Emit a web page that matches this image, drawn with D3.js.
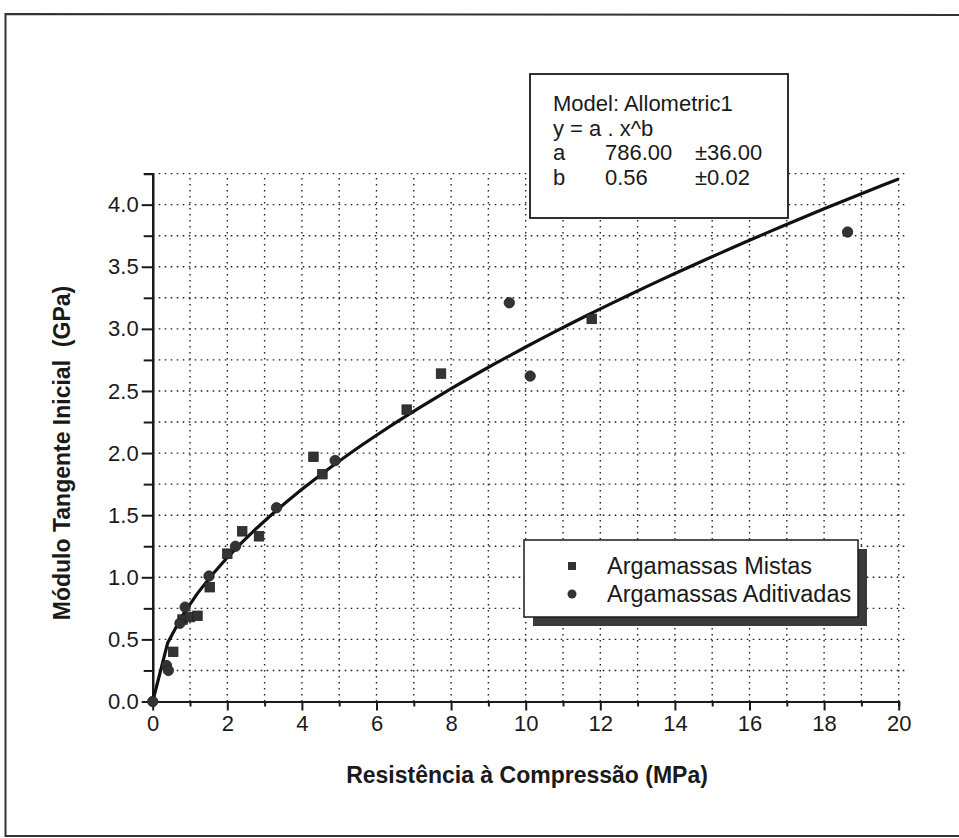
<!DOCTYPE html>
<html>
<head>
<meta charset="utf-8">
<script src="https://cdn.jsdelivr.net/npm/d3@7/dist/d3.min.js"></script>
<style>
  html, body { margin: 0; padding: 0; background: #fff; }
  svg { display: block; font-family: Arial, "Liberation Sans", Helvetica, sans-serif; }
</style>
</head>
<body>
<svg id="chart" width="959" height="838"></svg>
<script>
// ---- data ----
const mistasX = [0.55, 0.80, 1.00, 1.20, 1.53, 2.00, 2.40, 2.85, 4.31, 4.55, 6.81, 7.73, 11.77];
const mistasY = [0.40, 0.66, 0.68, 0.69, 0.92, 1.19, 1.37, 1.33, 1.97, 1.83, 2.35, 2.64, 3.08];

const aditX = [0.00, 0.37, 0.42, 0.73, 0.87, 1.51, 2.22, 3.32, 4.89, 9.56, 10.12, 18.63];
const aditY = [0.00, 0.29, 0.25, 0.63, 0.76, 1.01, 1.25, 1.56, 1.94, 3.21, 2.62, 3.78];

// fitted model shown in the chart: y = a . x^b  (a in MPa, result shown in GPa)
const modelA = 786.00, modelAErr = 36.00;
const modelB = 0.56, modelBErr = 0.02;

const xMajorTicks = [0, 2, 4, 6, 8, 10, 12, 14, 16, 18, 20];
const xMinorTicks = [1, 3, 5, 7, 9, 11, 13, 15, 17, 19];
const yMajorTicks = [0.0, 0.5, 1.0, 1.5, 2.0, 2.5, 3.0, 3.5, 4.0];
const yMinorTicks = [0.25, 0.75, 1.25, 1.75, 2.25, 2.75, 3.25, 3.75];
const xGrid = [1,2,3,4,5,6,7,8,9,10,11,12,13,14,15,16,17,18,19,20];
const yGrid = [0.25,0.5,0.75,1,1.25,1.5,1.75,2,2.25,2.5,2.75,3,3.25,3.5,3.75,4,4.25];

const legendLabels = ["Argamassas Mistas", "Argamassas Aditivadas"];
const modelLines = [
  ["Model: Allometric1", "", ""],
  ["y = a . x^b", "", ""],
  ["a", modelA.toFixed(2), "\u00B1" + modelAErr.toFixed(2)],
  ["b", modelB.toFixed(2), "\u00B1" + modelBErr.toFixed(2)]
];

// ---- drawing ----
const svg = d3.select("#chart");
const ink = "#1a1a1a";

// outer frame
svg.append("path")
  .attr("d", "M 970 15 L 5.5 14 L 5.5 836 L 970 836")
  .attr("fill", "none").attr("stroke", "#333").attr("stroke-width", 2);

const x = d3.scaleLinear().domain([0, 20]).range([152.7, 898.7]);
const y = d3.scaleLinear().domain([0, 4.25]).range([701.5, 173.6]);

// grid
const grid = svg.append("g").attr("stroke", "#222").attr("stroke-width", 1.4)
  .attr("stroke-dasharray", "1.6,4.4");
grid.selectAll("line.v").data(xGrid).join("line")
  .attr("x1", d => x(d)).attr("x2", d => x(d))
  .attr("y1", y(0)).attr("y2", y(4.25));
grid.selectAll("line.h").data(yGrid).join("line")
  .attr("class", "h")
  .attr("x1", x(0)).attr("x2", x(20.2))
  .attr("y1", d => y(d)).attr("y2", d => y(d));

// axes
function styleAxis(g) {
  g.select(".domain").attr("stroke", ink).attr("stroke-width", 2.2);
  g.selectAll(".tick line").attr("stroke", ink).attr("stroke-width", 2);
  g.selectAll(".tick text").attr("fill", ink).style("font-size", "22px")
    .style("font-family", "Arial, 'Liberation Sans', sans-serif");
}
svg.append("g").attr("transform", `translate(0,${y(0)})`)
  .call(d3.axisBottom(x).tickValues(xMinorTicks).tickSize(5).tickFormat(""))
  .call(styleAxis);
svg.append("g").attr("transform", `translate(0,${y(0)})`)
  .call(d3.axisBottom(x).tickValues(xMajorTicks).tickSize(9).tickSizeOuter(0).tickPadding(5).tickFormat(d3.format("d")))
  .call(styleAxis);

svg.append("g").attr("transform", `translate(${x(0)},0)`)
  .call(d3.axisLeft(y).tickValues(yMinorTicks).tickSize(9).tickFormat(""))
  .call(styleAxis);
svg.append("g").attr("transform", `translate(${x(0)},0)`)
  .call(d3.axisLeft(y).tickValues(yMajorTicks).tickSize(11).tickSizeOuter(0).tickPadding(3).tickFormat(d3.format(".1f")))
  .call(styleAxis);

// axis titles
svg.append("text")
  .attr("x", 527).attr("y", 783)
  .attr("text-anchor", "middle")
  .style("font-size", "23px").style("font-weight", "bold").attr("fill", ink)
  .text("Resist\u00EAncia \u00E0 Compress\u00E3o (MPa)");
svg.append("text")
  .attr("transform", "translate(70,453) rotate(-90)")
  .attr("text-anchor", "middle")
  .style("font-size", "23px").style("font-weight", "bold").attr("fill", ink)
  .style("white-space", "pre")
  .text("M\u00F3dulo Tangente Inicial  (GPa)");

// fitted curve
const curveX = d3.range(0, 20.0001, 0.4);
const curvePts = curveX.map(v => [v, modelA * Math.pow(v, modelB) / 1000]);
svg.append("path")
  .datum(curvePts)
  .attr("fill", "none").attr("stroke", "#111").attr("stroke-width", 3.2)
  .attr("stroke-linejoin", "round")
  .attr("d", d3.line().x(d => x(d[0])).y(d => y(d[1])));

// data markers
const markFill = "#333";
const sq = 9.5;
svg.append("g").selectAll("rect").data(d3.zip(mistasX, mistasY)).join("rect")
  .attr("x", d => x(d[0]) - sq / 2).attr("y", d => y(d[1]) - sq / 2)
  .attr("width", sq).attr("height", sq)
  .attr("fill", markFill).attr("stroke", "#222").attr("stroke-width", 0.8);
svg.append("g").selectAll("circle").data(d3.zip(aditX, aditY)).join("circle")
  .attr("cx", d => x(d[0])).attr("cy", d => y(d[1])).attr("r", 5.2)
  .attr("fill", markFill).attr("stroke", "#222").attr("stroke-width", 0.8);

// model box
const mb = svg.append("g");
mb.append("rect").attr("x", 530).attr("y", 74).attr("width", 258).attr("height", 144)
  .attr("fill", "#fff").attr("stroke", ink).attr("stroke-width", 1.8);
const colX = [553, 605, 695];
modelLines.forEach((row, i) => {
  row.forEach((t, j) => {
    if (!t) return;
    mb.append("text").attr("x", colX[j]).attr("y", 111 + i * 24.5)
      .style("font-size", "22px").attr("fill", ink).text(t);
  });
});

// legend with shadow
const lg = svg.append("g");
lg.append("rect").attr("x", 533).attr("y", 549).attr("width", 334).attr("height", 77)
  .attr("fill", "#3a3a3a");
lg.append("rect").attr("x", 524).attr("y", 540).attr("width", 334).attr("height", 77)
  .attr("fill", "#fff").attr("stroke", ink).attr("stroke-width", 1.5);
lg.append("rect").attr("x", 572 - 4).attr("y", 566 - 4).attr("width", 8).attr("height", 8)
  .attr("fill", markFill);
lg.append("circle").attr("cx", 572).attr("cy", 594).attr("r", 4.5).attr("fill", markFill);
legendLabels.forEach((t, i) => {
  lg.append("text").attr("x", 607).attr("y", 574 + i * 28)
    .style("font-size", "23.5px").attr("fill", ink).text(t);
});
</script>
</body>
</html>
